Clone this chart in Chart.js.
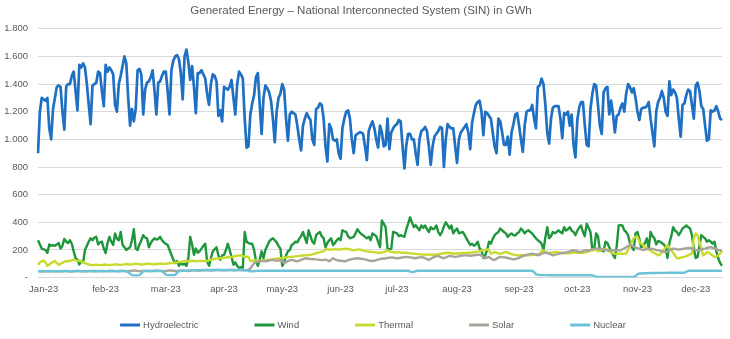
<!DOCTYPE html>
<html>
<head>
<meta charset="utf-8">
<title>Generated Energy – SIN</title>
<script src="https://cdn.jsdelivr.net/npm/chart.js@4.4.1/dist/chart.umd.min.js"></script>
<style>
    html, body { margin: 0; padding: 0; background: #ffffff; }
    #wrap { width: 730px; height: 339px; }
</style>
</head>
<body>
<div id="wrap"><canvas id="chartEnergy" width="730" height="339"></canvas></div>
<script>
// Month labels and the day index where each one is printed
const monthNames = ['Jan-23', 'feb-23', 'mar-23', 'apr-23', 'may-23', 'jun-23',
    'jul-23', 'aug-23', 'sep-23', 'oct-23', 'nov-23', 'dec-23'];
const monthTickDays = [3, 36, 68, 99, 130, 161, 191, 223, 256, 287, 319, 350];

// Daily generation, GWh (1 Jan - 31 Dec 2023)
const hydro = [
    900, 1200, 1300, 1290, 1280, 1300, 1080, 1000, 1220, 1300,
    1380, 1390, 1380, 1200, 1070, 1380, 1400, 1400, 1460, 1490,
    1350, 1210, 1540, 1520, 1550, 1520, 1400, 1250, 1110, 1390,
    1400, 1410, 1490, 1480, 1350, 1240, 1540, 1490, 1520, 1500,
    1470, 1250, 1200, 1400, 1460, 1530, 1600, 1550, 1300, 1100,
    1220, 1130, 1220, 1500, 1510, 1470, 1180, 1360, 1410, 1420,
    1450, 1500, 1350, 1180, 1410, 1420, 1460, 1490, 1490, 1350,
    1180, 1500, 1570, 1600, 1610, 1580, 1480, 1290, 1600, 1650,
    1560, 1430, 1530, 1380, 1190, 1480, 1480, 1500, 1470, 1440,
    1330, 1250, 1400, 1470, 1460, 1420, 1170, 1210, 1130, 1380,
    1370, 1360, 1380, 1430, 1300, 1180, 1400, 1490, 1470, 1440,
    1150, 940, 950, 1180, 1260, 1320, 1450, 1480, 1250, 1040,
    1300, 1390, 1370, 1340, 1280, 1150, 980, 1200, 1300, 1330,
    1400, 1360, 1150, 990, 1180, 1200, 1190, 1180, 1100, 1000,
    920, 1100, 1150, 1190, 1160, 1140, 1000, 960, 1220, 1230,
    1260, 1250, 1150, 950, 840, 1110, 1080, 1000, 990, 1000,
    900, 860, 1080, 1150, 1200, 1210, 1150, 1000, 900, 1030,
    1040, 1050, 1050, 1040, 950, 850, 1060, 1100, 1130, 1080,
    1000, 940, 1100, 1050, 950, 960, 1150, 930, 1050, 1080,
    1100, 1110, 1140, 1130, 950, 790, 960, 1040, 1040, 1000,
    1000, 900, 815, 1000, 1060, 1070, 1090, 1060, 950, 815,
    950, 1020, 1040, 1060, 1090, 1080, 800, 1000, 1110, 1090,
    1080, 1080, 950, 830, 1000, 1050, 1070, 1090, 1110, 1050,
    930, 1120, 1190, 1250, 1270, 1280, 1200, 1030, 1200, 1190,
    1170, 1150, 1050, 950, 900, 1150, 1130, 1050, 960, 960,
    1020, 890, 1050, 1110, 1180, 1190, 1100, 1000, 910, 1100,
    1200, 1210, 1210, 1250, 1150, 1080, 1380, 1390, 1440, 1400,
    1250, 1050, 970, 1150, 1230, 1240, 1240, 1240, 1150, 1010,
    1190, 1180, 1200, 1100, 1180, 960, 870, 1140, 1230, 1270,
    1270, 1100, 960, 950, 1220, 1330, 1400, 1390, 1250, 1100,
    1040, 1340, 1370, 1380, 1180, 1280, 1180, 1050, 1170, 1180,
    1230, 1260, 1200, 1330, 1400, 1380, 1340, 1370, 1300, 1200,
    1140, 1220, 1230, 1230, 1240, 1270, 1150, 1050, 950, 1200,
    1270, 1300, 1350, 1300, 1200, 1170, 1420, 1320, 1360, 1340,
    1300, 1150, 1020, 1250, 1260, 1320, 1360, 1350, 1250, 1150,
    1390, 1410, 1350, 1240, 1220, 1100, 990, 1000, 1210, 1200,
    1210, 1240, 1200, 1150, 1140
];

const wind = [
    270, 240, 210, 205, 200, 180, 240, 230, 235, 230,
    240, 250, 210, 230, 280, 260, 250, 270, 245, 190,
    140, 130, 95, 120, 110, 200, 230, 260, 284, 270,
    290, 295, 240, 255, 260, 210, 177, 250, 295, 260,
    236, 320, 280, 270, 330, 236, 220, 200, 210, 220,
    270, 350, 210, 200, 240, 270, 307, 290, 284, 220,
    250, 270, 284, 275, 280, 295, 270, 255, 245, 236,
    200, 165, 130, 106, 120, 85, 110, 94, 100, 85,
    140, 295, 240, 165, 210, 180, 190, 210, 230, 245,
    118, 85, 140, 190, 205, 220, 160, 130, 160, 165,
    200, 245, 200, 150, 94, 110, 85, 70, 75, 70,
    330, 260, 250, 245, 245, 200, 120, 85, 130, 190,
    140, 200, 230, 260, 275, 284, 270, 255, 230, 210,
    85, 110, 160, 190, 200, 236, 245, 260, 255, 280,
    300, 330, 290, 250, 342, 300, 260, 245, 307, 320,
    330, 300, 284, 220, 250, 270, 284, 236, 250, 270,
    284, 270, 342, 335, 330, 300, 284, 290, 295, 320,
    350, 330, 315, 307, 295, 284, 295, 270, 320, 310,
    300, 260, 220, 413, 390, 365, 210, 205, 210, 330,
    325, 320, 300, 307, 300, 295, 350, 390, 436, 400,
    365, 380, 360, 342, 377, 360, 377, 350, 330, 365,
    350, 355, 377, 330, 307, 330, 370, 400, 380, 355,
    377, 320, 340, 355, 320, 325, 330, 310, 284, 260,
    236, 245, 230, 240, 260, 210, 200, 142, 160, 200,
    260, 245, 280, 307, 320, 330, 355, 342, 330, 320,
    295, 310, 320, 307, 305, 320, 330, 355, 340, 320,
    335, 342, 330, 320, 300, 284, 270, 260, 245, 200,
    290, 365, 284, 300, 330, 320, 330, 342, 330, 320,
    365, 340, 350, 365, 340, 330, 307, 340, 360, 377,
    330, 300, 390, 360, 330, 200, 210, 320, 300, 200,
    195, 190, 260, 250, 220, 190, 165, 142, 230, 377,
    380, 377, 342, 330, 307, 250, 220, 200, 320, 330,
    280, 220, 230, 250, 284, 210, 330, 300, 284, 240,
    265, 260, 250, 240, 220, 142, 250, 300, 365, 340,
    330, 307, 330, 355, 365, 377, 365, 355, 307, 210,
    142, 150, 230, 307, 295, 284, 260, 270, 260, 245,
    260, 190, 140, 106, 85
];

const thermal = [
    92, 110, 120, 122, 110, 85, 95, 106, 112, 120,
    105, 92, 100, 106, 115, 120, 118, 122, 125, 130,
    125, 120, 122, 118, 113, 105, 99, 95, 92, 90,
    92, 94, 92, 90, 91, 93, 95, 92, 90, 92,
    94, 96, 95, 93, 92, 94, 96, 98, 97, 95,
    96, 98, 100, 99, 97, 95, 96, 98, 99, 100,
    98, 97, 96, 98, 100, 101, 100, 99, 100, 102,
    104, 105, 106, 108, 110, 112, 114, 116, 118, 120,
    118, 120, 122, 120, 118, 119, 121, 120, 119, 120,
    121, 125, 130, 133, 135, 137, 138, 140, 142, 143,
    145, 147, 148, 150, 152, 155, 158, 161, 160, 155,
    150, 152, 150, 120, 122, 125, 124, 122, 120, 121,
    124, 126, 128, 130, 132, 133, 135, 137, 139, 140,
    142, 144, 146, 148, 150, 151, 152, 154, 155, 157,
    158, 160, 161, 162, 163, 165, 168, 172, 176, 180,
    184, 188, 190, 204, 205, 203, 202, 204, 205, 204,
    203, 204, 206, 208, 210, 207, 204, 200, 198, 200,
    202, 204, 200, 196, 193, 190, 188, 186, 185, 184,
    182, 180, 180, 182, 185, 190, 198, 192, 186, 184,
    182, 183, 184, 182, 180, 181, 180, 178, 176, 175,
    173, 172, 170, 168, 167, 166, 165, 166, 167, 166,
    165, 166, 168, 170, 172, 174, 176, 178, 180, 178,
    176, 174, 173, 174, 175, 176, 177, 178, 179, 180,
    181, 182, 184, 186, 188, 192, 196, 198, 200, 204,
    198, 173, 178, 185, 180, 175, 172, 176, 182, 185,
    180, 175, 170, 166, 164, 162, 161, 163, 162, 160,
    161, 162, 164, 163, 165, 168, 170, 173, 190, 198,
    185, 178, 176, 180, 182, 184, 185, 183, 180, 178,
    176, 175, 176, 178, 180, 182, 181, 180, 179, 178,
    180, 182, 185, 190, 195, 198, 205, 200, 190, 195,
    198, 205, 210, 200, 190, 180, 175, 173, 172, 173,
    174, 173, 172, 175, 200, 230, 260, 284, 295, 295,
    260, 245, 236, 220, 210, 205, 195, 185, 178, 170,
    161, 165, 185, 200, 220, 236, 215, 198, 180, 160,
    142, 140, 145, 148, 150, 155, 160, 168, 173, 284,
    320, 305, 260, 210, 161, 170, 185, 180, 170, 160,
    150, 152, 160, 175, 195
];

const solar = [
    45, 46, 44, 45, 47, 46, 44, 45, 46, 47,
    46, 45, 44, 46, 47, 48, 46, 45, 44, 46,
    47, 48, 47, 46, 45, 46, 47, 48, 47, 46,
    45, 46, 47, 48, 49, 48, 47, 46, 48, 49,
    48, 47, 46, 48, 49, 50, 48, 47, 46, 48,
    50, 52, 50, 48, 47, 48, 49, 50, 49, 48,
    47, 48, 50, 51, 50, 49, 48, 47, 48, 50,
    52, 51, 50, 49, 48, 50, 51, 52, 50, 49,
    48, 50, 52, 53, 52, 51, 50, 52, 53, 54,
    53, 52, 51, 52, 53, 54, 55, 54, 53, 52,
    53, 54, 55, 54, 53, 52, 54, 55, 54, 53,
    52, 54, 56, 65, 85, 105, 112, 116, 118, 120,
    122, 118, 120, 124, 126, 128, 125, 122, 124, 126,
    118, 106, 112, 120, 125, 128, 124, 120, 118, 122,
    128, 134, 138, 140, 136, 134, 133, 135, 132, 130,
    128, 126, 128, 130, 125, 118, 130, 140, 132, 126,
    124, 122, 120, 118, 120, 126, 130, 134, 136, 138,
    140, 138, 136, 134, 132, 128, 124, 122, 120, 122,
    126, 130, 134, 138, 136, 140, 142, 144, 145, 145,
    142, 140, 140, 144, 146, 148, 150, 148, 146, 144,
    142, 140, 144, 146, 148, 146, 140, 134, 128, 136,
    144, 150, 155, 157, 150, 144, 140, 146, 152, 157,
    155, 152, 150, 152, 156, 158, 160, 161, 161, 160,
    158, 160, 162, 164, 165, 166, 160, 150, 140, 145,
    150, 138, 130, 128, 136, 145, 150, 148, 146, 145,
    142, 138, 135, 133, 135, 138, 142, 150, 156, 161,
    165, 168, 172, 173, 170, 166, 162, 165, 172, 178,
    180, 180, 174, 168, 161, 165, 168, 172, 175, 178,
    180, 182, 185, 190, 195, 198, 195, 190, 185, 188,
    192, 196, 198, 195, 200, 205, 208, 210, 210, 208,
    205, 202, 200, 198, 196, 197, 198, 198, 197, 198,
    198, 205, 212, 220, 228, 236, 232, 225, 218, 212,
    210, 205, 200, 203, 206, 208, 210, 208, 204, 200,
    198, 195, 190, 185, 186, 190, 198, 205, 210, 208,
    205, 203, 205, 208, 210, 212, 214, 215, 210, 205,
    200, 198, 200, 204, 208, 210, 214, 218, 220, 216,
    212, 206, 200, 198, 196
];

const nuclear = [
    47, 47, 46, 46, 47, 47, 48, 47, 47, 46,
    46, 47, 47, 48, 48, 47, 47, 46, 46, 47,
    47, 48, 48, 47, 47, 46, 46, 47, 47, 48,
    48, 48, 47, 47, 46, 46, 47, 47, 48, 48,
    48, 47, 47, 46, 46, 47, 47, 46, 40, 28,
    18, 16, 16, 16, 18, 30, 46, 47, 47, 48,
    48, 48, 47, 47, 48, 48, 46, 36, 22, 18,
    18, 18, 18, 20, 34, 47, 48, 49, 50, 50,
    51, 52, 52, 53, 53, 54, 54, 54, 55, 55,
    55, 55, 55, 55, 55, 55, 55, 55, 55, 55,
    55, 55, 55, 55, 55, 55, 55, 55, 55, 55,
    54, 52, 48, 46, 46, 47, 48, 49, 50, 50,
    50, 50, 50, 50, 50, 50, 50, 50, 50, 50,
    50, 50, 50, 50, 50, 50, 50, 50, 50, 50,
    50, 50, 50, 50, 50, 50, 50, 50, 50, 50,
    50, 50, 50, 50, 50, 50, 50, 50, 50, 50,
    50, 50, 50, 50, 50, 50, 50, 50, 50, 50,
    50, 50, 50, 50, 50, 50, 50, 50, 50, 50,
    50, 50, 50, 50, 50, 50, 50, 50, 50, 50,
    50, 50, 50, 50, 50, 50, 50, 50, 44, 40,
    42, 46, 50, 50, 50, 50, 50, 50, 50, 50,
    50, 50, 50, 50, 50, 50, 50, 50, 50, 50,
    50, 50, 50, 50, 50, 50, 50, 50, 50, 50,
    50, 50, 50, 50, 50, 50, 50, 50, 50, 50,
    50, 50, 50, 50, 50, 50, 50, 50, 50, 50,
    50, 50, 50, 50, 50, 50, 50, 50, 50, 50,
    50, 50, 50, 50, 40, 25, 20, 19, 18, 18,
    18, 18, 17, 17, 17, 17, 17, 17, 17, 17,
    17, 17, 17, 17, 17, 17, 17, 17, 17, 17,
    17, 17, 17, 17, 17, 16, 12, 6, 5, 5,
    5, 5, 5, 5, 5, 5, 5, 5, 5, 5,
    5, 5, 5, 5, 5, 5, 5, 5, 10, 25,
    30, 30, 31, 31, 32, 32, 33, 33, 33, 33,
    34, 34, 34, 34, 34, 35, 35, 35, 35, 35,
    35, 35, 35, 35, 36, 42, 50, 50, 50, 50,
    50, 50, 50, 50, 50, 50, 50, 50, 50, 50,
    50, 50, 50, 50, 50
];

const FONT = "'Liberation Sans', Arial, sans-serif";
const TEXT_COLOR = '#595959';

// one category per day of 2023
const days = [];
for (let i = 0; i < hydro.length; i++) {
    const d = new Date(Date.UTC(2023, 0, 1 + i));
    days.push(d.toISOString().slice(0, 10));
}

const series = [
    { label: 'Hydroelectric', data: hydro, color: '#1f6fc3', width: 2.7 },
    { label: 'Wind', data: wind, color: '#1f963c', width: 2.4 },
    { label: 'Thermal', data: thermal, color: '#c9da2e', width: 2.4 },
    { label: 'Solar', data: solar, color: '#a9a49b', width: 2.4 },
    { label: 'Nuclear', data: nuclear, color: '#6cc3d8', width: 2.4 }
];

// Legend drawn by hand: short line + label, wide even gaps like the office charts
const lineLegend = {
    id: 'lineLegend',
    afterDraw: (chart) => {
        const ctx = chart.ctx;
        const swatch = 20, gap = 3, spacing = 56, y = 325;
        ctx.save();
        ctx.font = '9.5px ' + FONT;
        const widths = chart.data.datasets.map(ds => swatch + gap + ctx.measureText(ds.label).width);
        const total = widths.reduce((a, b) => a + b, 0) + spacing * (widths.length - 1);
        let x = 373 - total / 2;
        chart.data.datasets.forEach((ds, i) => {
            ctx.strokeStyle = ds.borderColor;
            ctx.lineWidth = 3;
            ctx.beginPath();
            ctx.moveTo(x, y);
            ctx.lineTo(x + swatch, y);
            ctx.stroke();
            ctx.fillStyle = TEXT_COLOR;
            ctx.textBaseline = 'middle';
            ctx.textAlign = 'left';
            ctx.fillText(ds.label, x + swatch + gap, y);
            x += widths[i] + spacing;
        });
        ctx.restore();
    }
};

const chartEnergy = new Chart(document.getElementById('chartEnergy'), {
    type: 'line',
    data: {
        labels: days,
        datasets: series.map((s, i) => ({
            label: s.label,
            data: s.data,
            borderColor: s.color,
            backgroundColor: s.color,
            borderWidth: s.width,
            pointRadius: 0,
            tension: 0,
            borderJoinStyle: 'round',
            order: series.length - i   // later series sit on top
        }))
    },
    options: {
        responsive: false,
        animation: false,
        devicePixelRatio: 1,
        layout: { padding: { left: 0, right: 8, top: 0, bottom: 38 } },
        plugins: {
            legend: { display: false },
            tooltip: { enabled: false },
            title: {
                display: true,
                text: 'Generated Energy – National Interconnected System (SIN) in GWh',
                color: TEXT_COLOR,
                font: { family: FONT, size: 11.5, weight: 'normal' },
                padding: { top: 4, bottom: 11 }
            }
        },
        scales: {
            x: {
                grid: { display: false, drawTicks: false },
                border: { display: true, color: '#d9d9d9', width: 1 },
                ticks: {
                    autoSkip: false,
                    maxRotation: 0,
                    padding: 6,
                    color: TEXT_COLOR,
                    font: { family: FONT, size: 9.5 },
                    callback: (value, index) => {
                        const m = monthTickDays.indexOf(index);
                        return m >= 0 ? monthNames[m] : null;
                    }
                }
            },
            y: {
                min: 0,
                max: 1800,
                afterFit: (scale) => { scale.width = 38; },
                grid: { color: '#d9d9d9', drawTicks: false },
                border: { display: false },
                ticks: {
                    stepSize: 200,
                    padding: 10,
                    color: TEXT_COLOR,
                    font: { family: FONT, size: 9.5 },
                    callback: (v) => v === 0 ? '-' : String(v).replace(/\B(?=(\d{3})+(?!\d))/g, '.')
                }
            }
        }
    },
    plugins: [lineLegend]
});
</script>
</body>
</html>
